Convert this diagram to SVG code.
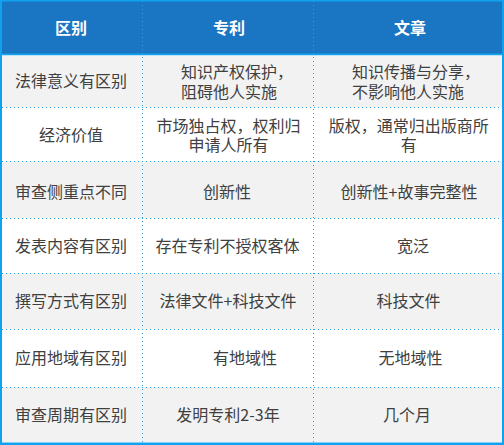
<svg xmlns="http://www.w3.org/2000/svg" width="504" height="445" viewBox="0 0 504 445">
<style>
text{font-family:"Noto Sans CJK SC","Microsoft YaHei","Liberation Sans",sans-serif;font-size:16px;fill:#404040;text-anchor:middle}
text.h{fill:#ffffff;font-weight:bold}
text.s{text-anchor:start}
.dot{stroke:#2a9fdc;stroke-width:1;stroke-dasharray:1 3;fill:none}
.gray{fill:#f2f2f2}
.white{fill:#ffffff}
.border{fill:#0ea2ef}
</style>
<rect x="0" y="0" width="504" height="445" fill="#ffffff"/>
<g id="header">
<rect x="0" y="0" width="504" height="54" fill="#1a75c3"/>
<rect x="0" y="53.5" width="504" height="2" fill="#12a3ee"/>
<text class="h" x="71" y="34">区别</text>
<text class="h" x="229" y="34">专利</text>
<text class="h" x="410" y="34">文章</text>
</g>
<g id="row1">
<rect class="gray" x="0" y="55.5" width="504" height="51.5"/>
<text x="71" y="87">法律意义有区别</text>
<text class="s" x="181" y="78">知识产权保护，</text>
<text class="s" x="181" y="97.5">阻碍他人实施</text>
<text class="s" x="352" y="78">知识传播与分享，</text>
<text class="s" x="352" y="97.5">不影响他人实施</text>
</g>
<g id="row2">
<rect class="white" x="0" y="107" width="504" height="54"/>
<text x="71" y="141">经济价值</text>
<text x="228.5" y="132">市场独占权，权利归</text>
<text x="228.5" y="151">申请人所有</text>
<text x="408.7" y="132">版权，通常归出版商所</text>
<text x="408.7" y="151">有</text>
</g>
<g id="row3">
<rect class="gray" x="0" y="161" width="504" height="57"/>
<text x="71" y="197.5">审查侧重点不同</text>
<text x="227" y="197.5">创新性</text>
<text x="409" y="197.5">创新性+故事完整性</text>
</g>
<g id="row4">
<rect class="white" x="0" y="218" width="504" height="55"/>
<text x="71" y="251.5">发表内容有区别</text>
<text x="227.5" y="251.5">存在专利不授权客体</text>
<text x="413" y="251.5">宽泛</text>
</g>
<g id="row5">
<rect class="gray" x="0" y="273" width="504" height="56"/>
<text x="71" y="307">撰写方式有区别</text>
<text x="228" y="307">法律文件+科技文件</text>
<text x="408.5" y="307">科技文件</text>
</g>
<g id="row6">
<rect class="white" x="0" y="329" width="504" height="58"/>
<text x="71" y="364">应用地域有区别</text>
<text x="245" y="364">有地域性</text>
<text x="410.5" y="364">无地域性</text>
</g>
<g id="row7">
<rect class="gray" x="0" y="387" width="504" height="55"/>
<text x="71" y="421">审查周期有区别</text>
<text x="228" y="421">发明专利2-3年</text>
<text x="407" y="421">几个月</text>
</g>
<g id="grid">
<line class="dot" x1="142.5" y1="1" x2="142.5" y2="442"/>
<line class="dot" x1="313.5" y1="1" x2="313.5" y2="442"/>
<line class="dot" x1="2" y1="107.5" x2="502" y2="107.5"/>
<line class="dot" x1="2" y1="161.5" x2="502" y2="161.5"/>
<line class="dot" x1="2" y1="218.5" x2="502" y2="218.5"/>
<line class="dot" x1="2" y1="273.5" x2="502" y2="273.5"/>
<line class="dot" x1="2" y1="329.5" x2="502" y2="329.5"/>
<line class="dot" x1="2" y1="387.5" x2="502" y2="387.5"/>
</g>
<g id="frame">
<rect class="border" x="0" y="0" width="504" height="1.5"/>
<rect class="border" x="0" y="0" width="2" height="445"/>
<rect class="border" x="502" y="0" width="2" height="445"/>
<rect class="border" x="0" y="442.5" width="504" height="2.5"/>
</g>
</svg>
